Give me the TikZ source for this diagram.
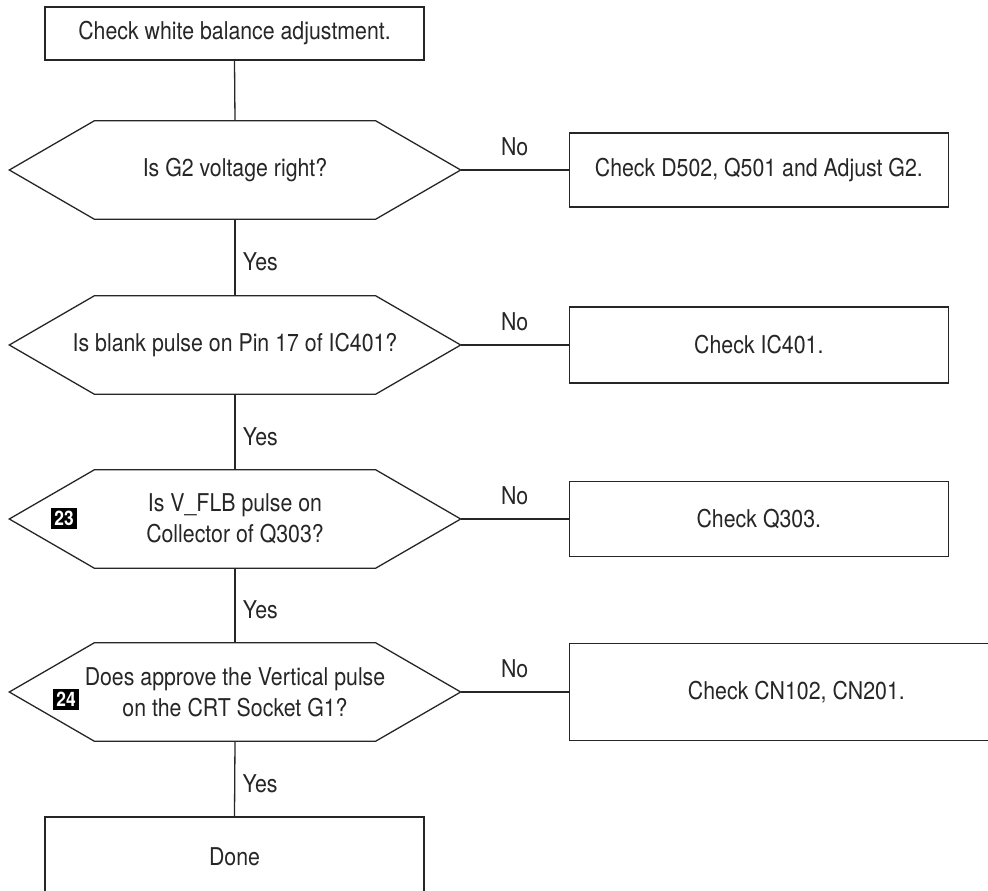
\documentclass[tikz,border=0pt]{standalone}
\usepackage{fontspec}
\setmainfont[FakeStretch=0.87]{TeX Gyre Heros}
\usepackage{xcolor}
\usepackage{tikz}
\usetikzlibrary{positioning}
\definecolor{inkgray}{HTML}{262626}

\tikzset{
  flowtext/.style={font=\fontsize{24.5pt}{31pt}\selectfont, text=inkgray},
  procbox/.style={flowtext, draw=inkgray, line width=1.3pt, align=center,
    minimum width=379pt, minimum height=74pt, inner sep=0pt},
  decision/.style={flowtext, align=center, minimum width=451pt,
    minimum height=98pt, inner sep=0pt},
  badge/.style={fill=black, text=white, inner sep=0pt,
    minimum width=26pt, minimum height=21pt,
    font=\fontsize{20pt}{20pt}\selectfont\bfseries},
  link/.style={draw=inkgray, line width=1.3pt},
  tag/.style={flowtext}
}

\begin{document}
\begin{tikzpicture}[x=1pt, y=-1pt]
  \clip (0,0) rectangle (988,891);

  \node[procbox, minimum height=53pt] (start) at (234.5,33.5) {Check white balance adjustment.};

  \node[decision] (g2) at (235,170) {Is G2 voltage right?};
  \node[decision] (blank) at (235,345) {Is blank pulse on Pin 17 of IC401?};
  \node[decision] (vflb) at (235,519) {Is V\_FLB pulse on\\Collector of Q303?};
  \node[decision] (vert) at (235,692) {Does approve the Vertical pulse\\on the CRT Socket G1?};

  \foreach \d in {g2, blank, vflb, vert}
    \draw[link] (\d.west) -- ([xshift=85pt]\d.north west) -- ([xshift=-85pt]\d.north east)
      -- (\d.east) -- ([xshift=-85pt]\d.south east) -- ([xshift=85pt]\d.south west) -- cycle;

  \node[badge] (b23) at (64,518) {23};
  \node[badge] (b24) at (66,699) {24};

  \node[procbox, right=108pt of g2] (chkg2) {Check D502, Q501 and Adjust G2.};
  \node[procbox, right=108pt of blank, minimum height=76pt] (chkic) {Check IC401.};
  \node[procbox, right=108pt of vflb, minimum height=75pt] (chkq) {Check Q303.};
  \node[procbox, right=108pt of vert, minimum width=454pt, minimum height=97pt] (chkcn) {Check CN102, CN201.};

  \node[procbox, minimum height=80pt] (done) at (234.5,857) {Done};

  \draw[link] (start.south) -- (g2.north);
  \draw[link] (g2.south) -- node[tag, pos=0.56, right=4pt] {Yes} (blank.north);
  \draw[link] (blank.south) -- node[tag, pos=0.56, right=4pt] {Yes} (vflb.north);
  \draw[link] (vflb.south) -- node[tag, pos=0.56, right=4pt] {Yes} (vert.north);
  \draw[link] (vert.south) -- node[tag, pos=0.56, right=4pt] {Yes} (done.north);

  \draw[link] (g2.east) -- node[tag, above=10pt] {No} (chkg2.west);
  \draw[link] (blank.east) -- node[tag, above=10pt] {No} (chkic.west);
  \draw[link] (vflb.east) -- node[tag, above=10pt] {No} (chkq.west);
  \draw[link] (vert.east) -- node[tag, above=10pt] {No} (chkcn.west);
\end{tikzpicture}
\end{document}
